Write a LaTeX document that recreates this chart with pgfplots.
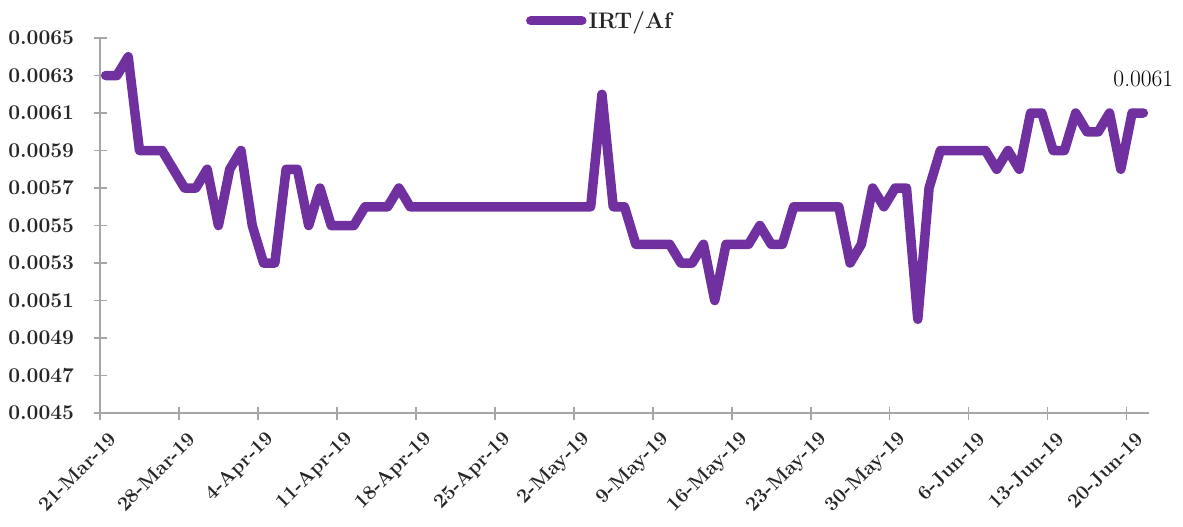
\documentclass[border=0pt]{standalone}
\usepackage{pgfplots}
\pgfplotsset{compat=1.18}
\definecolor{linepurple}{HTML}{7030A0}
\definecolor{axgray}{HTML}{A6A6A6}
\definecolor{txt}{HTML}{262626}
\pgfplotstableread{
x y
0.5 0.0063
1.5 0.0063
2.5 0.0064
3.5 0.0059
4.5 0.0059
5.5 0.0059
6.5 0.0058
7.5 0.0057
8.5 0.0057
9.5 0.0058
10.5 0.0055
11.5 0.0058
12.5 0.0059
13.5 0.0055
14.5 0.0053
15.5 0.0053
16.5 0.0058
17.5 0.0058
18.5 0.0055
19.5 0.0057
20.5 0.0055
21.5 0.0055
22.5 0.0055
23.5 0.0056
24.5 0.0056
25.5 0.0056
26.5 0.0057
27.5 0.0056
28.5 0.0056
29.5 0.0056
30.5 0.0056
31.5 0.0056
32.5 0.0056
33.5 0.0056
34.5 0.0056
35.5 0.0056
36.5 0.0056
37.5 0.0056
38.5 0.0056
39.5 0.0056
40.5 0.0056
41.5 0.0056
42.5 0.0056
43.5 0.0056
44.5 0.0062
45.5 0.0056
46.5 0.0056
47.5 0.0054
48.5 0.0054
49.5 0.0054
50.5 0.0054
51.5 0.0053
52.5 0.0053
53.5 0.0054
54.5 0.0051
55.5 0.0054
56.5 0.0054
57.5 0.0054
58.5 0.0055
59.5 0.0054
60.5 0.0054
61.5 0.0056
62.5 0.0056
63.5 0.0056
64.5 0.0056
65.5 0.0056
66.5 0.0053
67.5 0.0054
68.5 0.0057
69.5 0.0056
70.5 0.0057
71.5 0.0057
72.5 0.0050
73.5 0.0057
74.5 0.0059
75.5 0.0059
76.5 0.0059
77.5 0.0059
78.5 0.0059
79.5 0.0058
80.5 0.0059
81.5 0.0058
82.5 0.0061
83.5 0.0061
84.5 0.0059
85.5 0.0059
86.5 0.0061
87.5 0.0060
88.5 0.0060
89.5 0.0061
90.5 0.0058
91.5 0.0061
92.5 0.0061
}\irtdata
\begin{document}
\begin{tikzpicture}
\begin{axis}[
  scale only axis, width=1049bp, height=375bp,
  xmin=0, xmax=93, ymin=0.0045, ymax=0.0065,
  axis x line=bottom, axis y line=left,
  axis line style={-, axgray, line width=1.8bp},
  tick style={axgray, line width=1.8bp},
  tick align=center, major tick length=13bp,
  xtick={0,7,14,21,28,35,42,49,56,63,70,77,84,91},
  xticklabels={21-Mar-19,28-Mar-19,4-Apr-19,11-Apr-19,18-Apr-19,25-Apr-19,2-May-19,9-May-19,16-May-19,23-May-19,30-May-19,6-Jun-19,13-Jun-19,20-Jun-19},
  ytick={0.0045,0.0047,0.0049,0.0051,0.0053,0.0055,0.0057,0.0059,0.0061,0.0063,0.0065},
  scaled y ticks=false,
  yticklabel style={/pgf/number format/fixed, /pgf/number format/fixed zerofill, /pgf/number format/precision=4, /pgf/number format/assume math mode=true},
  yticklabel style={font=\fontsize{21bp}{25bp}\selectfont\bfseries, text=txt, xshift=-16bp},
  xticklabel style={font=\fontsize{20bp}{24bp}\selectfont\bfseries, text=txt, rotate=45, anchor=east, yshift=-21bp, xshift=1bp},
  legend style={at={(0.4766,1.046)}, anchor=center, draw=none, fill=none,
    font=\fontsize{22.5bp}{26bp}\selectfont\bfseries, text=txt},
  legend image code/.code={\draw[#1, line cap=round] (0bp,0bp) -- (51bp,0bp);},
  clip=false,
]
\addplot[linepurple, line width=9.5bp, line join=round, line cap=round] table[x=x,y=y] {\irtdata};
\addlegendentry{IRT/Af}
\addplot[draw=none, forget plot, nodes near coords, point meta=explicit symbolic,
  nodes near coords style={anchor=south, inner sep=0pt, yshift=26bp, text=black,
    font=\fontsize{23.5bp}{27bp}\selectfont}]
  coordinates {(92.5,0.0061) [0.0061]};
\end{axis}
\path ([xshift=-100bp,yshift=-113bp]current axis.south west) rectangle ([xshift=34bp,yshift=38bp]current axis.north east);
\end{tikzpicture}
\end{document}
